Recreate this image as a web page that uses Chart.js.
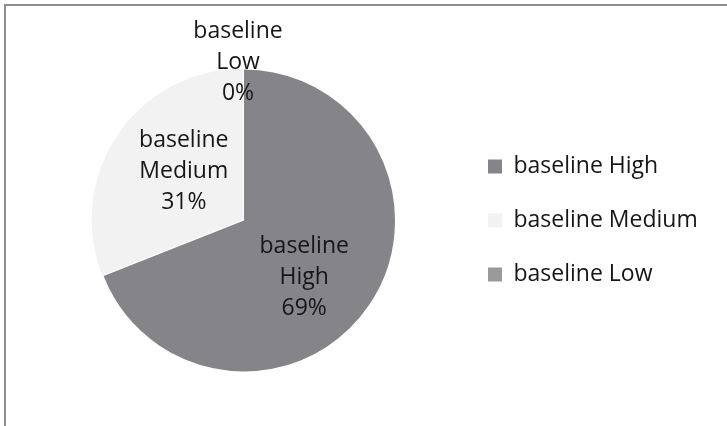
<!DOCTYPE html>
<html>
<head>
<meta charset="utf-8">
<script src="https://cdn.jsdelivr.net/npm/chart.js@4/dist/chart.umd.min.js"></script>
<style>
  html, body { margin: 0; padding: 0; background: #ffffff; }
  #wrap { position: relative; width: 727px; height: 426px; overflow: hidden; }
  #frame {
    position: absolute; left: 4px; top: 4px; right: -4px; bottom: -4px;
    border-top: 2px solid #8f8f8f; border-left: 2px solid #8f8f8f;
    pointer-events: none;
  }
  canvas { position: absolute; left: 0; top: 0; }
</style>
</head>
<body>
<div id="wrap">
  <canvas id="chart" width="727" height="426"></canvas>
  <div id="frame"></div>
</div>
<script>
// Share of baseline results per level
const categories = ['baseline High', 'baseline Medium', 'baseline Low'];
const shares = [69, 31, 0];
const sliceColors = ['#858589', '#f2f2f2', '#9a9a9c'];
const sliceOffsets = [0, 6, 0];

const FONT = 'Open Sans';
const FONT_SIZE = 23;
const TEXT_COLOR = '#161616';
const LINE_PITCH = 31;

// Width of the longest legend entry, used to size the right padding
const probe = document.createElement('canvas').getContext('2d');
probe.font = FONT_SIZE + 'px "' + FONT + '"';
const longest = Math.max(...categories.map(c => probe.measureText(c).width));
const legendPad = 31;
const legendLeft = 457;
const legendWidth = legendPad + 14 + FONT_SIZE / 2 + longest + 10;
const rightPad = Math.max(0, 727 - legendLeft - legendWidth);

// Category name + percentage drawn on each slice
const sliceLabels = {
  id: 'sliceLabels',
  afterDatasetsDraw(chart) {
    const ctx = chart.ctx;
    const meta = chart.getDatasetMeta(0);
    const total = shares.reduce((a, b) => a + b, 0);
    const bias = 7 * Math.PI / 180; // labels sit a little clockwise of the slice middle
    ctx.save();
    ctx.font = FONT_SIZE + 'px "' + FONT + '"';
    ctx.fillStyle = TEXT_COLOR;
    ctx.textAlign = 'center';
    ctx.textBaseline = 'middle';
    meta.data.forEach((arc, i) => {
      const p = arc.getProps(['x', 'y', 'startAngle', 'endAngle', 'outerRadius'], true);
      const empty = shares[i] === 0;
      const mid = (p.startAngle + p.endAngle) / 2 + (empty ? 0 : bias);
      const pct = Math.round(shares[i] / total * 100) + '%';
      const dist = empty ? p.outerRadius + 11 : p.outerRadius * 0.53;
      const cx = p.x + Math.cos(mid) * dist - (empty ? 6 : 0);
      const cy = p.y + Math.sin(mid) * dist + 4;
      const parts = categories[i].split(' ');
      const lines = [parts[0], parts.slice(1).join(' '), pct];
      lines.forEach((t, k) => ctx.fillText(t, cx, cy + (k - 1) * LINE_PITCH));
    });
    ctx.restore();
  }
};

new Chart(document.getElementById('chart'), {
  type: 'pie',
  data: {
    labels: categories,
    datasets: [{
      data: shares,
      backgroundColor: sliceColors,
      borderWidth: 0,
      offset: sliceOffsets,
      radius: 151
    }]
  },
  options: {
    responsive: false,
    animation: false,
    layout: { padding: { left: 31, top: 15, bottom: 0, right: rightPad } },
    plugins: {
      tooltip: { enabled: false },
      legend: {
        position: 'right',
        labels: {
          font: { family: FONT, size: FONT_SIZE },
          color: TEXT_COLOR,
          boxWidth: 14,
          boxHeight: 14,
          padding: legendPad
        }
      }
    }
  },
  plugins: [sliceLabels]
});
</script>
</body>
</html>
